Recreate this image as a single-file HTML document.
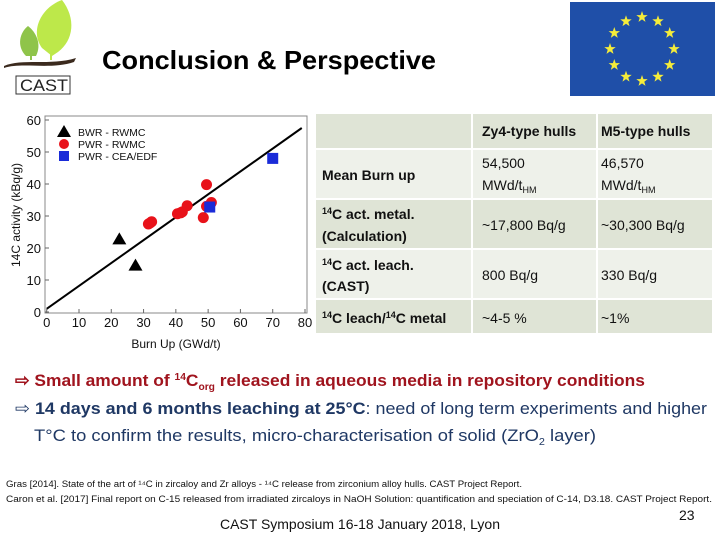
<!DOCTYPE html>
<html><head><meta charset="utf-8"><style>
html,body{margin:0;padding:0;background:#fff;}
svg{display:block;font-family:"Liberation Sans",sans-serif;}
</style></head><body>
<svg id="page" width="720" height="540" viewBox="0 0 720 540">
<g>
<path d="M42 48 C30 32,40 8,62 0 C76 18,74 40,58 52 L52 56 Z" fill="#bde84a"/>
<path d="M26 56 C16 46,20 32,28 26 C36 32,42 44,36 56 Z" fill="#8fc44a"/>
<rect x="30" y="50" width="2" height="10" fill="#8fc44a"/><rect x="50" y="50" width="2" height="10" fill="#bde84a"/>
<path d="M4 66 C22 58,50 66,76 58 L74 62 C50 70,22 62,4 68 Z" fill="#3b2a1e"/>
<rect x="16" y="76" width="54" height="18" fill="none" stroke="#333" stroke-width="1"/>
<text x="20" y="91" font-size="17" fill="#222" textLength="48" lengthAdjust="spacingAndGlyphs">CAST</text>
</g>
<text x="102" y="69" font-size="26" font-weight="bold" fill="#000" textLength="334" lengthAdjust="spacingAndGlyphs">Conclusion &amp; Perspective</text>
<g>
<rect x="570" y="2" width="145" height="94" fill="#1f4fa8"/>
<g id="stars"></g>
</g>
<g id="chart"></g>
<g>
<rect x="316" y="114" width="396" height="34" fill="#dfe4d6"/>
<rect x="316" y="150" width="396" height="48" fill="#eef1ea"/>
<rect x="316" y="200" width="396" height="48" fill="#dfe4d6"/>
<rect x="316" y="250" width="396" height="48" fill="#eef1ea"/>
<rect x="316" y="300" width="396" height="33" fill="#dfe4d6"/>
<line x1="472" y1="114" x2="472" y2="333" stroke="#fff" stroke-width="2"/>
<line x1="597" y1="114" x2="597" y2="333" stroke="#fff" stroke-width="2"/>
<g font-size="14" fill="#111">
<text x="482" y="136" font-weight="bold">Zy4-type hulls</text>
<text x="601" y="136" font-weight="bold">M5-type hulls</text>
<text x="322" y="180" font-weight="bold">Mean Burn up</text>
<text x="482" y="168">54,500</text><text x="482" y="190">MWd/t<tspan font-size="9" dy="3">HM</tspan></text>
<text x="601" y="168">46,570</text><text x="601" y="190">MWd/t<tspan font-size="9" dy="3">HM</tspan></text>
<text x="322" y="219" font-weight="bold"><tspan font-size="9" dy="-5">14</tspan><tspan dy="5">C act. metal.</tspan></text>
<text x="322" y="241" font-weight="bold">(Calculation)</text>
<text x="482" y="230">~17,800 Bq/g</text><text x="601" y="230">~30,300 Bq/g</text>
<text x="322" y="270" font-weight="bold"><tspan font-size="9" dy="-5">14</tspan><tspan dy="5">C act. leach.</tspan></text>
<text x="322" y="291" font-weight="bold">(CAST)</text>
<text x="482" y="280">800 Bq/g</text><text x="601" y="280">330 Bq/g</text>
<text x="322" y="323" font-weight="bold"><tspan font-size="9" dy="-5">14</tspan><tspan dy="5">C leach/</tspan><tspan font-size="9" dy="-5">14</tspan><tspan dy="5">C metal</tspan></text>
<text x="482" y="323">~4-5 %</text><text x="601" y="323">~1%</text>
</g></g>
<g>
<text x="15" y="386" font-size="17" fill="#a0141e" font-weight="bold" textLength="630" lengthAdjust="spacingAndGlyphs">⇨ Small amount of <tspan font-size="10" dy="-6">14</tspan><tspan dy="6">C</tspan><tspan font-size="10" dy="4">org</tspan><tspan dy="-4"> released in aqueous media in repository conditions</tspan></text>
<text x="15" y="414" font-size="17" fill="#1f3864" textLength="692" lengthAdjust="spacingAndGlyphs">⇨ <tspan font-weight="bold">14 days and 6 months leaching at 25°C</tspan>: need of long term experiments and higher</text>
<text x="34" y="441" font-size="17" fill="#1f3864" textLength="562" lengthAdjust="spacingAndGlyphs">T°C to confirm the results, micro-characterisation of solid (ZrO<tspan font-size="10" dy="4">2</tspan><tspan dy="-4"> layer)</tspan></text>
</g>
<g font-size="9" fill="#111">
<text x="6" y="487" textLength="516" lengthAdjust="spacingAndGlyphs">Gras [2014]. State of the art of ¹⁴C in zircaloy and Zr alloys - ¹⁴C release from zirconium alloy hulls. CAST Project Report.</text>
<text x="6" y="502" textLength="706" lengthAdjust="spacingAndGlyphs">Caron et al. [2017] Final report on C-15 released from irradiated zircaloys in NaOH Solution: quantification and speciation of C-14, D3.18. CAST Project Report.</text>
</g>
<text x="220" y="529" font-size="14" fill="#111" textLength="280" lengthAdjust="spacingAndGlyphs">CAST Symposium 16-18 January 2018, Lyon</text>
<text x="679" y="520" font-size="14" fill="#111">23</text>
</svg>
<script>
const bwrX=[22.5,27.5], bwrY=[22.7,14.5];
const pwrX=[31.5,32,32.5,40.5,41.5,42,43.5,48.5,49.5,51,49.5];
const pwrY=[27.5,27.8,28.2,30.7,31,31.3,33.2,29.5,39.8,34.2,33];
const ceaX=[50.5,70], ceaY=[32.8,48];
const fitX=[0,79], fitY=[1,57.5];
const xTicks=[0,10,20,30,40,50,60,70,80];
const yTicks=[0,10,20,30,40,50,60];
const NS="http://www.w3.org/2000/svg";
const sx=v=>46.7+v*(305-46.7)/80;
const sy=v=>312-v*(312-120)/60;
const g=document.getElementById('chart');
function mk(t,a,p){const e=document.createElementNS(NS,t);for(const k in a)e.setAttribute(k,a[k]);(p||g).appendChild(e);return e;}
const fr=mk('rect',{x:45,y:116,width:262,height:197,fill:'none',stroke:'#888','stroke-width':1});


xTicks.forEach(t=>{const l=mk('text',{x:sx(t),y:327,'font-size':13,'text-anchor':'middle',fill:'#111'});l.textContent=t;


mk('line',{x1:sx(t),x2:sx(t),y1:313,y2:309,stroke:'#666'});});
yTicks.forEach(t=>{const l=mk('text',{x:41,y:sy(t)+5,'font-size':13,'text-anchor':'end',fill:'#111'});l.textContent=t;


mk('line',{x1:45,x2:49,y1:sy(t),y2:sy(t),stroke:'#666'});});
const xt=mk('text',{x:176,y:348,'font-size':12,'text-anchor':'middle',fill:'#111'});xt.textContent='Burn Up (GWd/t)';


const yt=mk('text',{x:0,y:0,'font-size':12,'text-anchor':'middle',fill:'#111',transform:'translate(20,215) rotate(-90)'});yt.textContent='14C activity (kBq/g)';


const fl=mk('line',{x1:sx(fitX[0]),y1:sy(fitY[0]),x2:sx(fitX[1]),y2:sy(fitY[1]),stroke:'#000','stroke-width':2});


function tri(x,y){return `${x},${y-7} ${x-7},${y+5} ${x+7},${y+5}`;}
pwrX.forEach((v,i)=>{const c=mk('ellipse',{cx:sx(v),cy:sy(pwrY[i]),rx:5.5,ry:5.5,fill:'#e8121a'});

});
bwrX.forEach((v,i)=>{const c=mk('polygon',{points:tri(sx(v),sy(bwrY[i])),fill:'#000'});

});
ceaX.forEach((v,i)=>{const c=mk('rect',{x:sx(v)-5.5,y:sy(ceaY[i])-5.5,width:11,height:11,fill:'#1a2bd8'});

});
const leg=[['BWR - RWMC','t'],['PWR - RWMC','c'],['PWR - CEA/EDF','s']];
leg.forEach((e,i)=>{const y=132+i*12;const gg=mk('g',{});


if(e[1]=='t')mk('polygon',{points:tri(64,y),fill:'#000'},gg);
if(e[1]=='c')mk('circle',{cx:64,cy:y,r:5,fill:'#e8121a'},gg);
if(e[1]=='s')mk('rect',{x:59,y:y-5,width:10,height:10,fill:'#1a2bd8'},gg);
const t=mk('text',{x:78,y:y+4,'font-size':10.5,fill:'#111'},gg);t.textContent=e[0];});
const st=document.getElementById('stars');
for(let i=0;i<12;i++){const a=i*Math.PI/6;const cx=642+32*Math.sin(a),cy=49-32*Math.cos(a);let p=[];
for(let k=0;k<10;k++){const r=k%2?2.4:6,b=k*Math.PI/5;p.push((cx+r*Math.sin(b)).toFixed(1)+','+(cy-r*Math.cos(b)).toFixed(1));}
mk('polygon',{points:p.join(' '),fill:'#f5ec3a'},st);}
</script>
</body></html>
